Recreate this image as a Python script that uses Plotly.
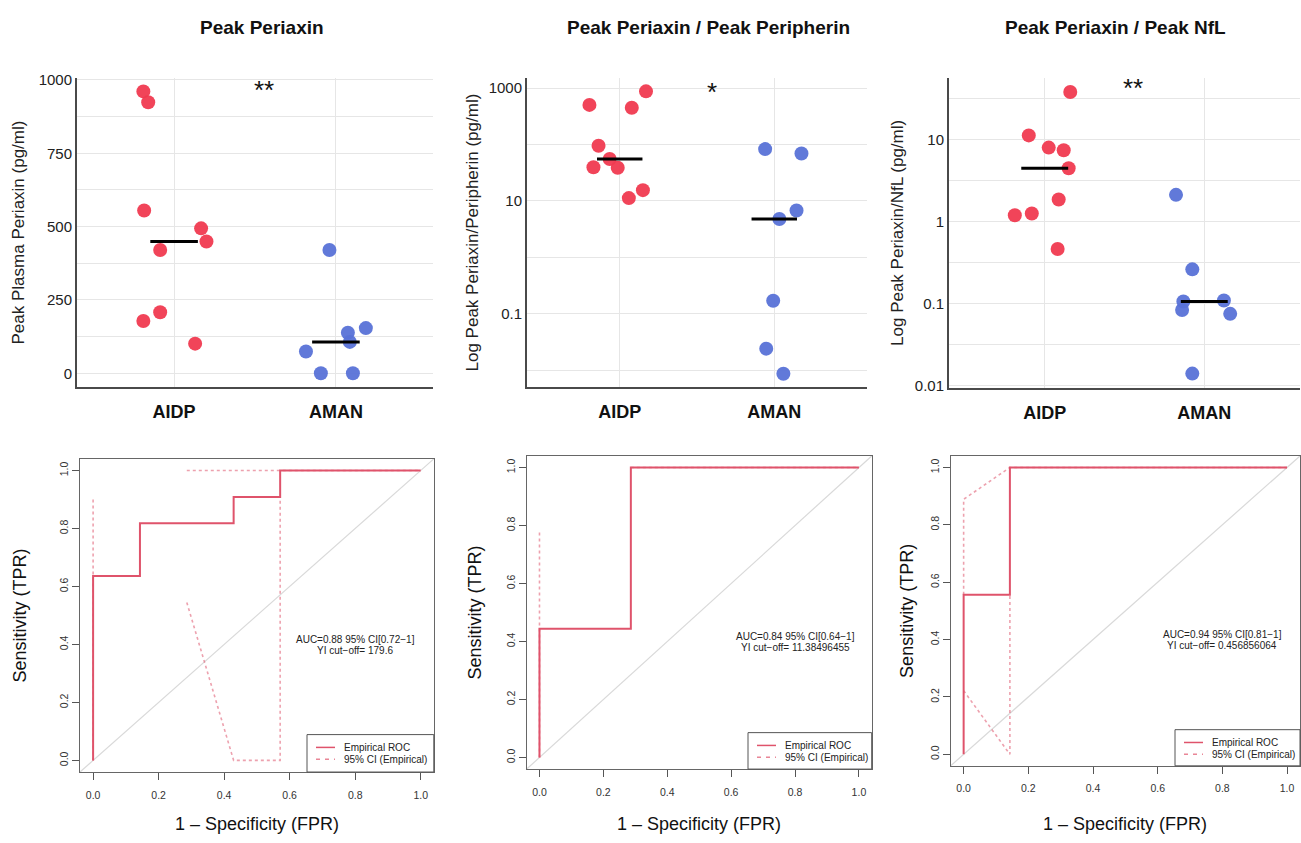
import numpy as np
import plotly.graph_objects as go

W, H = 1301, 843

# ---------------- data ----------------
groups = ["AIDP", "AMAN"]

# Panel 1: Peak Periaxin (pg/ml)
p1_aidp = [961, 924, 555, 494, 449, 420, 208, 178, 101]
p1_aidp_jit = [-0.19, -0.16, -0.185, 0.167, 0.20, -0.086, -0.086, -0.19, 0.13]
p1_aman = [420, 138, 154, 107, 74, 0, 0]
p1_aman_jit = [-0.04, 0.074, 0.185, 0.086, -0.185, -0.093, 0.105]

# Panel 2: Peak Periaxin / Peak Peripherin
p2_aidp = [873, 503, 447, 94.6, 55.3, 39.5, 38.6, 15.5, 11.2]
p2_aidp_jit = [0.17, -0.196, 0.078, -0.137, -0.065, -0.17, -0.013, 0.15, 0.059]
p2_aman = [82.8, 69.3, 6.75, 4.77, 0.170, 0.024, 0.0086]
p2_aman_jit = [-0.059, 0.176, 0.144, 0.033, -0.007, -0.052, 0.059]

# Panel 3: Peak Periaxin / Peak NfL
p3_aidp = [37.9, 11.2, 7.95, 7.37, 4.45, 1.85, 1.25, 1.19, 0.462]
p3_aidp_jit = [0.16, -0.10, 0.025, 0.119, 0.15, 0.0875, -0.081, -0.1875, 0.081]
p3_aman = [2.11, 0.261, 0.109, 0.106, 0.0835, 0.0748, 0.014]
p3_aman_jit = [-0.177, -0.075, 0.123, -0.131, -0.139, 0.1625, -0.075]

significance = ["**", "*", "**"]
titles = ["Peak Periaxin", "Peak Periaxin / Peak Peripherin", "Peak Periaxin / Peak NfL"]
ytitles = ["Peak Plasma Periaxin (pg/ml)", "Log Peak Periaxin/Peripherin (pg/ml)",
           "Log Peak Periaxin/NfL (pg/ml)"]

# ROC curves
roc1_fpr = [0, 0, 0.143, 0.143, 0.429, 0.429, 0.571, 0.571, 1.0]
roc1_tpr = [0, 0.636, 0.636, 0.818, 0.818, 0.909, 0.909, 1.0, 1.0]
roc1_ci_up_fpr = [0, 0, None, 0.286, 1.0]
roc1_ci_up_tpr = [0, 0.909, None, 1.0, 1.0]
roc1_ci_lo_fpr = [0.286, 0.429, 0.571, 0.571]
roc1_ci_lo_tpr = [0.545, 0, 0, 0.909]

roc2_fpr = [0, 0, 0.286, 0.286, 1.0]
roc2_tpr = [0, 0.444, 0.444, 1.0, 1.0]
roc2_ci_up_fpr = [0, 0, None, 0.286, 1.0]
roc2_ci_up_tpr = [0, 0.778, None, 1.0, 1.0]
roc2_ci_lo_fpr = []
roc2_ci_lo_tpr = []

roc3_fpr = [0, 0, 0.143, 0.143, 1.0]
roc3_tpr = [0, 0.556, 0.556, 1.0, 1.0]
roc3_ci_up_fpr = [0, 0, 0.143, 1.0]
roc3_ci_up_tpr = [0.556, 0.889, 1.0, 1.0]
roc3_ci_lo_fpr = [0, 0.143, 0.143]
roc3_ci_lo_tpr = [0.222, 0, 0.556]

auc_text = ["AUC=0.88 95% CI[0.72\u22121]", "AUC=0.84 95% CI[0.64\u22121]", "AUC=0.94 95% CI[0.81\u22121]"]
cut_text = ["YI cut\u2212off= 179.6", "YI cut\u2212off= 11.38496455", "YI cut\u2212off= 0.456856064"]

# ---------------- layout helpers ----------------
def fx(p):
    return p / W

def fy(p):
    return 1 - p / H

RED = "rgb(240,58,80)"
BLUE = "rgb(88,114,215)"
ROC = "#DF536B"
FONT = "Liberation Sans, Arial, sans-serif"

fig = go.Figure()
annotations = []
shapes = []

def ann(text, x, y, size, xref="paper", yref="paper", angle=0, xanchor="center", color="#111"):
    annotations.append(dict(text=text, x=x, y=y, xref=xref, yref=yref, showarrow=False,
                            xanchor=xanchor, yanchor="middle", textangle=angle,
                            font=dict(family=FONT, size=size, color=color)))

top_dom_x = [(77, 433), (527, 867), (949, 1300)]
top_dom_y = [(72, 386), (72, 386), (72, 387)]
top_data = [
    (p1_aidp, p1_aidp_jit, p1_aman, p1_aman_jit),
    (p2_aidp, p2_aidp_jit, p2_aman, p2_aman_jit),
    (p3_aidp, p3_aidp_jit, p3_aman, p3_aman_jit),
]
title_x = [262, 708, 1115]
star_px = [(264, 84), (712, 86), (1133, 82)]
ytitle_x = [18, 472, 898]

layout_axes = {}
for i in range(3):
    n = i + 1
    xa = "x" if n == 1 else f"x{n}"
    ya = "y" if n == 1 else f"y{n}"
    a, aj, b, bj = top_data[i]
    fig.add_trace(go.Scatter(x=[0 + j for j in aj], y=a, mode="markers", xaxis=xa, yaxis=ya,
                             marker=dict(size=14, color=RED, opacity=0.95), showlegend=False))
    fig.add_trace(go.Scatter(x=[1 + j for j in bj], y=b, mode="markers", xaxis=xa, yaxis=ya,
                             marker=dict(size=14, color=BLUE, opacity=0.95), showlegend=False))
    for g, vals in enumerate([a, b]):
        med = float(np.median(vals))
        fig.add_trace(go.Scatter(x=[g - 0.147, g + 0.147], y=[med, med], mode="lines",
                                 xaxis=xa, yaxis=ya, line=dict(color="black", width=3),
                                 showlegend=False))
    xkey = "xaxis" if n == 1 else f"xaxis{n}"
    ykey = "yaxis" if n == 1 else f"yaxis{n}"
    dx = top_dom_x[i]
    dy = top_dom_y[i]
    layout_axes[xkey] = dict(
        domain=[fx(dx[0]), fx(dx[1])], range=[-0.6, 1.6], anchor=ya,
        tickvals=[0, 1], ticktext=[f"<b>{g}</b>" for g in groups],
        tickfont=dict(family=FONT, size=18, color="#111"), ticklabelstandoff=7,
        showgrid=True, gridcolor="#e6e6e6", gridwidth=1.3, zeroline=False,
        showline=True, linecolor="#4a4a4a", linewidth=2, ticks="",
    )
    ycommon = dict(domain=[fy(dy[1]), fy(dy[0])], anchor=xa,
                   showgrid=True, gridcolor="#e6e6e6", gridwidth=1.3, zeroline=False,
                   showline=True, linecolor="#4a4a4a", linewidth=2, ticks="",
                   tickfont=dict(family=FONT, size=15, color="#222"))
    if i == 0:
        ycommon.update(range=[-47, 1007], tickvals=list(range(0, 1001, 125)),
                       ticktext=["0", "", "250", "", "500", "", "750", "", "1000"])
    elif i == 1:
        ycommon.update(type="log", range=[-2.30, 3.18],
                       tickvals=[0.01, 0.1, 1, 10, 100, 1000],
                       ticktext=["", "0.1", "", "10", "", "1000"])
    else:
        ycommon.update(type="log", range=[-2.03, 1.75],
                       tickvals=[0.01, 10 ** -1.5, 0.1, 10 ** -0.5, 1, 10 ** 0.5, 10, 10 ** 1.5],
                       ticktext=["0.01", "", "0.1", "", "1", "", "10", ""])
    layout_axes[ykey] = ycommon

    ann(f"<b>{titles[i]}</b>", fx(title_x[i]), fy(21), 19)
    ann(significance[i], fx(star_px[i][0]), fy(star_px[i][1]), 26)
    ann(ytitles[i], fx(ytitle_x[i]), fy((dy[0] + dy[1]) / 2), 17, angle=-90, color="#222")

# ---------------- ROC panels ----------------
roc_dom_x = [(80, 433.8), (526.7, 871.7), (950.7, 1300)]
roc_dom_y = [(459, 777), (456, 774), (456, 770.7)]
roc_data = [
    (roc1_fpr, roc1_tpr, roc1_ci_up_fpr, roc1_ci_up_tpr, roc1_ci_lo_fpr, roc1_ci_lo_tpr),
    (roc2_fpr, roc2_tpr, roc2_ci_up_fpr, roc2_ci_up_tpr, roc2_ci_lo_fpr, roc2_ci_lo_tpr),
    (roc3_fpr, roc3_tpr, roc3_ci_up_fpr, roc3_ci_up_tpr, roc3_ci_lo_fpr, roc3_ci_lo_tpr),
]
roc_ytitle_x = [20, 475, 907]
legend_boxes = [(307, 433.8, 739, 777), (748, 871.7, 737, 774), (1175, 1300, 734, 770.7)]

for i in range(3):
    n = i + 4
    xa, ya = f"x{n}", f"y{n}"
    fpr, tpr, cux, cuy, clx, cly = roc_data[i]
    shapes.append(dict(type="line", xref=f"{xa} domain", yref=f"{ya} domain", x0=0, y0=0, x1=1, y1=1,
                       line=dict(color="#d9d9d9", width=1.2), layer="below"))
    ci_line = dict(color="rgba(223,83,107,0.55)", width=1.6, dash="dot")
    if cux:
        fig.add_trace(go.Scatter(x=cux, y=cuy, mode="lines", xaxis=xa, yaxis=ya, line=ci_line,
                                 showlegend=False, connectgaps=False))
    if clx:
        fig.add_trace(go.Scatter(x=clx, y=cly, mode="lines", xaxis=xa, yaxis=ya, line=ci_line,
                                 showlegend=False))
    fig.add_trace(go.Scatter(x=fpr, y=tpr, mode="lines", xaxis=xa, yaxis=ya,
                             line=dict(color=ROC, width=2), showlegend=False))
    dx, dy = roc_dom_x[i], roc_dom_y[i]
    layout_axes[f"xaxis{n}"] = dict(
        domain=[fx(dx[0]), fx(dx[1])], range=[-0.04, 1.04], anchor=ya,
        tickvals=[0, 0.2, 0.4, 0.6, 0.8, 1.0], ticktext=["0.0", "0.2", "0.4", "0.6", "0.8", "1.0"],
        ticks="outside", ticklen=7, tickcolor="#555", tickwidth=1, ticklabelstandoff=6,
        tickfont=dict(family=FONT, size=10.5, color="#333"),
        showgrid=False, zeroline=False, showline=True, mirror=True, linecolor="#666", linewidth=1,
    )
    layout_axes[f"yaxis{n}"] = dict(
        domain=[fy(dy[1]), fy(dy[0])], range=[-0.04, 1.04], anchor=xa,
        tickvals=[0, 0.2, 0.4, 0.6, 0.8, 1.0], ticktext=["0.0", "0.2", "0.4", "0.6", "0.8", "1.0"],
        ticks="outside", ticklen=7, tickcolor="#555", tickwidth=1, tickangle=-90,
        tickfont=dict(family=FONT, size=10.5, color="#333"),
        showgrid=False, zeroline=False, showline=True, mirror=True, linecolor="#666", linewidth=1,
    )
    ann(auc_text[i], 0.80, 0.417, 10, xref=xa, yref=ya, color="#222")
    ann(cut_text[i], 0.80, 0.378, 10, xref=xa, yref=ya, color="#222")
    ann("1 \u2013 Specificity (FPR)", fx((dx[0] + dx[1]) / 2), fy(830), 18)
    ann("Sensitivity (TPR)", fx(roc_ytitle_x[i]), fy((dy[0] + dy[1]) / 2), 18, angle=-90)
    # legend box
    lx0, lx1, ly0, ly1 = legend_boxes[i]
    shapes.append(dict(type="rect", xref="paper", yref="paper", x0=fx(lx0), x1=fx(lx1),
                       y0=fy(ly1), y1=fy(ly0), line=dict(color="#555", width=1), fillcolor="white"))
    r1 = ly0 + 13
    r2 = ly0 + 25
    shapes.append(dict(type="line", xref="paper", yref="paper", x0=fx(lx0 + 9), x1=fx(lx0 + 28),
                       y0=fy(r1), y1=fy(r1), line=dict(color=ROC, width=1.5)))
    shapes.append(dict(type="line", xref="paper", yref="paper", x0=fx(lx0 + 9), x1=fx(lx0 + 28),
                       y0=fy(r2), y1=fy(r2), line=dict(color="rgba(223,83,107,0.7)", width=1.5,
                                                          dash="4px,5px")))
    ann("Empirical ROC", fx(lx0 + 35), fy(r1), 10, xanchor="left", color="#222")
    ann("95% CI (Empirical)", fx(lx0 + 35), fy(r2), 10, xanchor="left", color="#222")

fig.update_layout(
    width=W, height=H, autosize=False,
    margin=dict(l=0, r=0, t=0, b=0),
    paper_bgcolor="white", plot_bgcolor="white",
    showlegend=False, annotations=annotations, shapes=shapes,
    **layout_axes,
)

fig.write_html("out.html", config={"displayModeBar": False},
               post_script="document.body.style.margin='0';document.body.style.overflow='hidden';")
